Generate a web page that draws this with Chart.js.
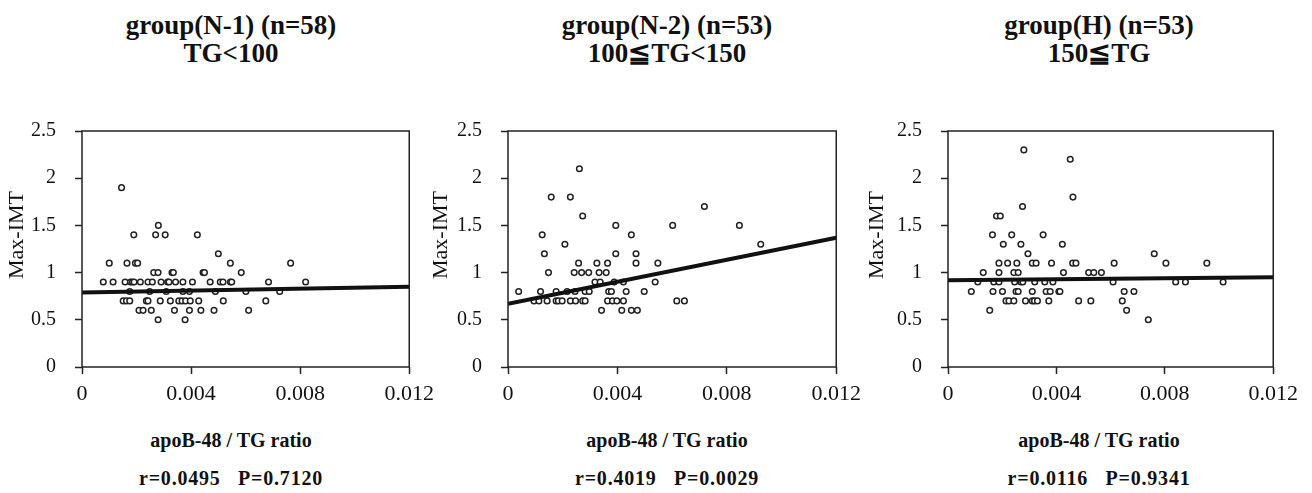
<!DOCTYPE html>
<html>
<head>
<meta charset="utf-8">
<script src="https://cdn.jsdelivr.net/npm/chart.js@4/dist/chart.umd.min.js"></script>
<style>
  body { margin: 0; background: #fff; width: 1312px; height: 493px; position: relative; overflow: hidden; font-family: 'Liberation Serif', serif; color: #111; }
  canvas { position: absolute; }
  .txt { position: absolute; transform: translate(-50%, -50%); white-space: pre; text-align: center; }
  .title { font-weight: bold; font-size: 27px; line-height: 28px; }
  .xlab { font-weight: bold; font-size: 20px; }
  .stat { font-weight: bold; font-size: 20px; letter-spacing: 0.8px; }
  .ylab { font-size: 22px; transform: translate(-50%, -50%) rotate(-90deg); }
</style>
</head>
<body>
<script>
// Max-IMT levels and the apoB-48/TG ratios of the points at each level
const n1Levels = [1.9, 1.5, 1.4, 1.2, 1.1, 1.0, 0.9, 0.8, 0.7, 0.6, 0.5]
const n1Ratios = [
  [0.00145],
  [0.0028],
  [0.0019, 0.0027, 0.00305, 0.00423],
  [0.005],
  [0.001, 0.00165, 0.00196, 0.00204, 0.00544, 0.00765],
  [0.00263, 0.00279, 0.0033, 0.00335, 0.00444, 0.00449, 0.00584],
  [0.00078, 0.00114, 0.00158, 0.00178, 0.00185, 0.00191, 0.00214, 0.00242, 0.00258, 0.0029, 0.00314, 0.00319, 0.00343, 0.0037, 0.00405, 0.0047, 0.00507, 0.00517, 0.00544, 0.00549, 0.00684, 0.0082],
  [0.00175, 0.00248, 0.00309, 0.0037, 0.00394, 0.00489, 0.00601, 0.00725],
  [0.00151, 0.00163, 0.00175, 0.00236, 0.00242, 0.00287, 0.00324, 0.00355, 0.00367, 0.0038, 0.00397, 0.00428, 0.00518, 0.00674],
  [0.00209, 0.00224, 0.00254, 0.00339, 0.00394, 0.00436, 0.00484, 0.00611],
  [0.00279, 0.00378]
]
const n1Fit = [0.79, 0.85]

const n2Levels = [2.1, 1.8, 1.7, 1.6, 1.5, 1.4, 1.3, 1.2, 1.1, 1.0, 0.9, 0.8, 0.7, 0.6]
const n2Ratios = [
  [0.00261],
  [0.00158, 0.00228],
  [0.00718],
  [0.00273],
  [0.00394, 0.00602, 0.00846],
  [0.00125, 0.00451],
  [0.00208, 0.00924],
  [0.00133, 0.00394, 0.00468],
  [0.00258, 0.00325, 0.00364, 0.00468, 0.00548],
  [0.00148, 0.00242, 0.00269, 0.00295, 0.00333, 0.00359],
  [0.00318, 0.00337, 0.00388, 0.00422, 0.00538],
  [0.00039, 0.00119, 0.00176, 0.00216, 0.00245, 0.00282, 0.00297, 0.00368, 0.00378, 0.00432, 0.00498],
  [0.00095, 0.00113, 0.00143, 0.00176, 0.00184, 0.00198, 0.00228, 0.00247, 0.00273, 0.00282, 0.00364, 0.00382, 0.00398, 0.00422, 0.00617, 0.00645],
  [0.00342, 0.00416, 0.00451, 0.00473]
]
const n2Fit = [0.67, 1.37]

const hLevels = [2.3, 2.2, 1.8, 1.7, 1.6, 1.4, 1.3, 1.2, 1.1, 1.0, 0.9, 0.8, 0.7, 0.6, 0.5]
const hRatios = [
  [0.0028],
  [0.00451],
  [0.00461],
  [0.00275],
  [0.00179, 0.00193],
  [0.00164, 0.00235, 0.00351],
  [0.00204, 0.00269, 0.00422],
  [0.00295, 0.00761],
  [0.00188, 0.0022, 0.00254, 0.00311, 0.00325, 0.00382, 0.0046, 0.00472, 0.00613, 0.00804, 0.00955],
  [0.0013, 0.00188, 0.00243, 0.00259, 0.00426, 0.00519, 0.00538, 0.00566],
  [0.0011, 0.00169, 0.00188, 0.00246, 0.00269, 0.00276, 0.0032, 0.00357, 0.00387, 0.00609, 0.0084, 0.00876, 0.01015],
  [0.00086, 0.00166, 0.00201, 0.00251, 0.00259, 0.00311, 0.00362, 0.00377, 0.00409, 0.00413, 0.0065, 0.00686],
  [0.00214, 0.00225, 0.00243, 0.00286, 0.00311, 0.00319, 0.0033, 0.00372, 0.00482, 0.00527, 0.00643],
  [0.00154, 0.00659],
  [0.00739]
]
const hFit = [0.92, 0.95]

const fitX = [0, 0.012]
const xTicks = ['0', '0.004', '0.008', '0.012']
const titles = ['group(N-1) (n=58)\nTG<100', 'group(N-2) (n=53)\n100≦TG<150', 'group(H) (n=53)\n150≦TG']
const stats = ['r=0.0495   P=0.7120', 'r=0.4019   P=0.0029', 'r=0.0116   P=0.9341']

// panel layout: chart area left/right, title centre, y-title centre
const panels = [
  { levels: n1Levels, ratios: n1Ratios, fit: n1Fit, left: 82, right: 411, tx: 231, yx: 16 },
  { levels: n2Levels, ratios: n2Ratios, fit: n2Fit, left: 508, right: 838, tx: 667, yx: 440 },
  { levels: hLevels, ratios: hRatios, fit: hFit, left: 948, right: 1275, tx: 1099, yx: 876 }
]

//draws the closed box around the plot area
const frame = {
  id: 'frame',
  afterDraw(chart) {
    let a = chart.chartArea
    let ctx = chart.ctx
    ctx.save()
    ctx.strokeStyle = '#222'
    ctx.lineWidth = 1.5
    ctx.strokeRect(a.left, a.top, a.right - a.left, a.bottom - a.top)
    ctx.restore()
  }
}

function addText(cls, text, x, y){
  let d = document.createElement('div')
  d.className = 'txt ' + cls
  d.textContent = text
  d.style.left = x + 'px'
  d.style.top = y + 'px'
  document.body.append(d)
}

panels.forEach((p, i) => {
  let canvas = document.createElement('canvas')
  let w = p.right - p.left + 82 + 30
  canvas.width = w
  canvas.height = 300
  canvas.style.left = (p.left - 82) + 'px'
  canvas.style.top = '100px'
  document.body.append(canvas)

  let points = []
  p.levels.forEach((lv, j) => p.ratios[j].forEach(r => points.push({ x: r, y: lv })))

  new Chart(canvas.getContext('2d'), {
    type: 'scatter',
    data: {
      datasets: [{
        data: fitX.map((x, k) => ({ x: x, y: p.fit[k] })),
        showLine: true,
        borderColor: '#111',
        borderWidth: 4,
        pointRadius: 0
      }, {
        data: points,
        pointRadius: 2.8,
        pointBorderWidth: 1.5,
        borderColor: '#222',
        backgroundColor: '#fff'
      }]
    },
    options: {
      responsive: false,
      animation: false,
      layout: { padding: { top: 20, right: 30, left: 0, bottom: 0 } },
      plugins: { legend: { display: false }, tooltip: { enabled: false } },
      scales: {
        x: {
          type: 'linear', min: 0, max: 0.012,
          afterFit(scale) { scale.height = 33 },
          border: { display: false },
          grid: { drawOnChartArea: false, tickLength: 7, tickColor: '#222', tickWidth: 1.5 },
          ticks: {
            stepSize: 0.004, padding: 7, color: '#111',
            font: { family: 'Liberation Serif', size: 22 },
            callback: (v, k) => xTicks[k]
          }
        },
        y: {
          min: 0, max: 2.5,
          afterFit(scale) { scale.width = 82 },
          border: { display: false },
          grid: { drawOnChartArea: false, tickLength: 7, tickColor: '#222', tickWidth: 1.5 },
          ticks: {
            stepSize: 0.25, padding: 19, color: '#111',
            font: { family: 'Liberation Serif', size: 20 },
            callback: v => (Math.round(v * 4) % 2 == 0) ? String(Math.round(v * 10) / 10) : ''
          }
        }
      }
    },
    plugins: [frame]
  })

  addText('title', titles[i], p.tx, 39)
  addText('ylab', 'Max-IMT', p.yx, 235)
  addText('xlab', 'apoB-48 / TG ratio', p.tx, 440)
  addText('stat', stats[i], p.tx, 478)
})
</script>
</body>
</html>
